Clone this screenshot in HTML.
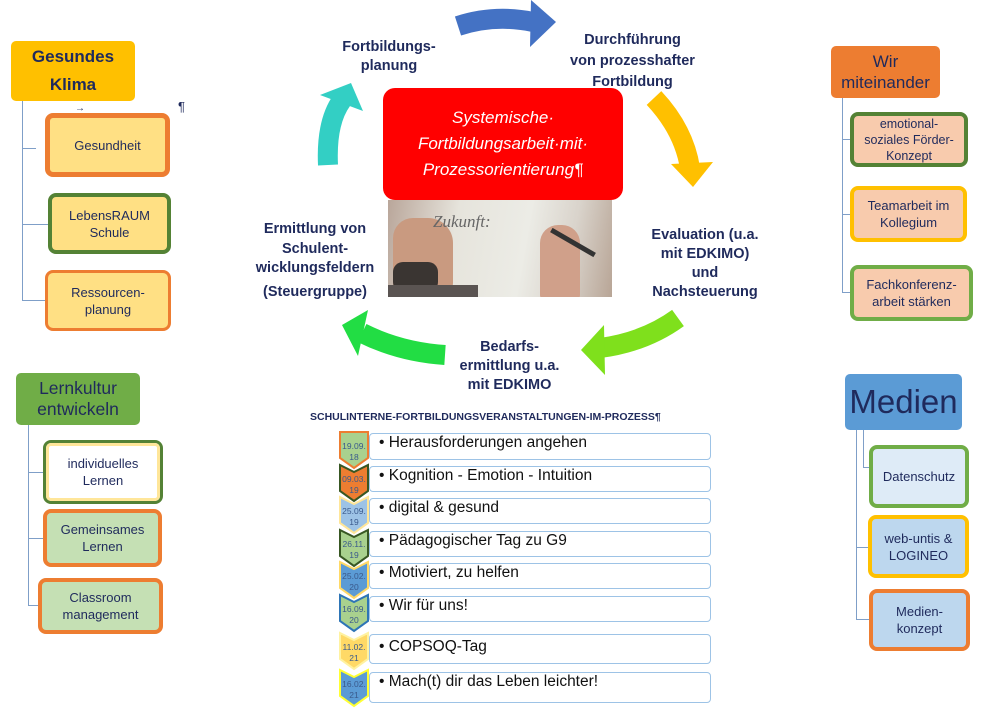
<!DOCTYPE html>
<html><head><meta charset="utf-8"><style>
body{margin:0;width:983px;height:710px;background:#fff;position:relative;overflow:hidden;font-family:"Liberation Sans",sans-serif;color:#1F2A5C}
.a{position:absolute;box-sizing:border-box;display:flex;align-items:center;justify-content:center;text-align:center}
.h{border-radius:5px}
.c{border-radius:8px;font-size:13px;line-height:17px;border-width:4px;border-style:solid}
.l{position:absolute;background:#7F9FC8}
.t{position:absolute;font-weight:bold;font-size:14.5px;line-height:19px;text-align:center;color:#1F2A5C}
.r{position:absolute;left:369px;width:342px;border:1.5px solid #9DC3E6;border-radius:4px;box-sizing:border-box;font-size:15.5px;padding-left:9px;color:#111;background:#fff}
</style></head><body>
<div class="a h" style="left:11px;top:41px;width:124px;height:60px;background:#FFC000;font-weight:bold;font-size:17px;line-height:28px">Gesundes<br>Klima</div>
<div class="l" style="left:22px;top:101px;width:1px;height:200px"></div>
<div class="l" style="left:22px;top:148px;width:14px;height:1px"></div>
<div class="l" style="left:22px;top:224px;width:26px;height:1px"></div>
<div class="l" style="left:22px;top:300px;width:24px;height:1px"></div>
<div class="a c" style="left:45px;top:113px;width:125px;height:64px;background:#FFE084;border-color:#ED7D31;border-width:5px">Gesundheit</div>
<div class="a c" style="left:48px;top:193px;width:123px;height:61px;background:#FFE084;border-color:#548235">LebensRAUM<br>Schule</div>
<div class="a c" style="left:45px;top:270px;width:126px;height:61px;background:#FFE084;border-color:#ED7D31;border-width:3px">Ressourcen-<br>planung</div>
<div style="position:absolute;left:178px;top:99px;font-size:13px">¶</div>
<div style="position:absolute;left:75px;top:103px;font-size:10px">→</div>
<div class="a h" style="left:831px;top:46px;width:109px;height:52px;background:#ED7D31;font-size:17px;line-height:21px">Wir<br>miteinander</div>
<div class="l" style="left:842px;top:98px;width:1px;height:195px"></div>
<div class="l" style="left:842px;top:139px;width:10px;height:1px"></div>
<div class="l" style="left:842px;top:214px;width:10px;height:1px"></div>
<div class="l" style="left:842px;top:292px;width:10px;height:1px"></div>
<div class="a c" style="left:850px;top:112px;width:118px;height:55px;background:#F8CBAD;border-color:#548235;font-size:12.5px;line-height:16px">emotional-<br>soziales Förder-<br>Konzept</div>
<div class="a c" style="left:850px;top:186px;width:117px;height:56px;background:#F8CBAD;border-color:#FFC000">Teamarbeit im<br>Kollegium</div>
<div class="a c" style="left:850px;top:265px;width:123px;height:56px;background:#F8CBAD;border-color:#70AD47">Fachkonferenz-<br>arbeit stärken</div>
<div class="a h" style="left:16px;top:373px;width:124px;height:52px;background:#70AD47;font-size:17.5px;line-height:21px">Lernkultur<br>entwickeln</div>
<div class="l" style="left:28px;top:425px;width:1px;height:181px"></div>
<div class="l" style="left:28px;top:472px;width:20px;height:1px"></div>
<div class="l" style="left:28px;top:538px;width:18px;height:1px"></div>
<div class="l" style="left:28px;top:605px;width:12px;height:1px"></div>
<div class="a c" style="left:43px;top:440px;width:120px;height:64px;background:#fff;border-color:#548235;border-width:3px"><div class="a" style="position:static;width:100%;height:100%;border:3px solid #FFE699;border-radius:5px">individuelles<br>Lernen</div></div>
<div class="a c" style="left:43px;top:509px;width:119px;height:58px;background:#C5E0B4;border-color:#ED7D31">Gemeinsames<br>Lernen</div>
<div class="a c" style="left:38px;top:578px;width:125px;height:56px;background:#C5E0B4;border-color:#ED7D31">Classroom<br>management</div>
<div class="a h" style="left:845px;top:374px;width:117px;height:56px;background:#5B9BD5;font-size:33px">Medien</div>
<div class="l" style="left:856px;top:430px;width:1px;height:190px"></div>
<div class="l" style="left:863px;top:430px;width:1px;height:38px"></div>
<div class="l" style="left:863px;top:467px;width:8px;height:1px"></div>
<div class="l" style="left:856px;top:547px;width:14px;height:1px"></div>
<div class="l" style="left:856px;top:619px;width:14px;height:1px"></div>
<div class="a c" style="left:869px;top:445px;width:100px;height:63px;background:#DEEBF7;border-color:#70AD47">Datenschutz</div>
<div class="a c" style="left:868px;top:515px;width:101px;height:63px;background:#BDD7EE;border-color:#FFC000">web-untis &amp;<br>LOGINEO</div>
<div class="a c" style="left:869px;top:589px;width:101px;height:62px;background:#BDD7EE;border-color:#ED7D31">Medien-<br>konzept</div>
<svg style="position:absolute;left:0;top:0" width="983" height="710" fill="none">
<path d="M458 26 Q495 14 533 22" stroke="#4472C4" stroke-width="20"/>
<polygon points="531,0 556,22 530,47" fill="#4472C4"/>
<path d="M654 98 Q684 130 690 168" stroke="#FFC000" stroke-width="20"/>
<polygon points="671,164 713,162 693,187" fill="#FFC000"/>
<path d="M678 318 Q645 342 600 348" stroke="#7FE01C" stroke-width="20"/>
<polygon points="604,325 605,375 581,350" fill="#7FE01C"/>
<path d="M445 355 Q400 352 362 333" stroke="#22DD44" stroke-width="20"/>
<polygon points="368,310 358,356 342,325" fill="#22DD44"/>
<path d="M328 165 Q326 122 342 100" stroke="#33CFC4" stroke-width="20"/>
<polygon points="320,95 363,111 351,83" fill="#33CFC4"/>
</svg>
<div style="position:absolute;left:388px;top:200px;width:224px;height:97px;background:linear-gradient(100deg,#b9a69a 0%,#e6e4dc 30%,#ececE6 60%,#d9d3cb 80%,#b8a596 100%);overflow:hidden">
<div style="position:absolute;left:5px;top:18px;width:60px;height:75px;background:#c99a80;border-radius:20px 25px 10px 10px"></div>
<div style="position:absolute;left:5px;top:62px;width:45px;height:30px;background:#3a3532;border-radius:10px"></div>
<div style="position:absolute;left:0;top:85px;width:90px;height:15px;background:#5a5452"></div>
<div style="position:absolute;left:152px;top:25px;width:40px;height:75px;background:#d0a08a;border-radius:18px 18px 5px 5px"></div>
<div style="position:absolute;left:160px;top:40px;width:50px;height:5px;background:#333;transform:rotate(30deg)"></div>
<div style="position:absolute;left:45px;top:12px;font-family:'Liberation Serif',serif;font-style:italic;font-size:17px;color:#666">Zukunft:</div>
</div>
<div class="a" style="left:383px;top:88px;width:240px;height:112px;background:#FF0000;border-radius:12px;color:#fff;font-style:italic;font-size:17px;line-height:26px">Systemische·<br>Fortbildungsarbeit·mit·<br>Prozessorientierung¶</div>
<div class="t" style="left:330px;top:38px;width:118px">Fortbildungs-<br>planung</div>
<div class="t" style="left:555px;top:30px;width:155px;line-height:21px">Durchführung<br>von prozesshafter<br>Fortbildung</div>
<div class="t" style="left:640px;top:226px;width:130px">Evaluation (u.a.<br>mit EDKIMO)<br>und<br>Nachsteuerung</div>
<div class="t" style="left:447px;top:338px;width:125px">Bedarfs-<br>ermittlung u.a.<br>mit EDKIMO</div>
<div class="t" style="left:250px;top:220px;width:130px;line-height:19.5px">Ermittlung von<br>Schulent-<br>wicklungsfeldern<br><span style="line-height:27px">(Steuergruppe)</span></div>
<div style="position:absolute;left:310px;top:411px;font-size:10.5px;font-weight:bold;color:#1F2A5C">SCHULINTERNE-FORTBILDUNGSVERANSTALTUNGEN-IM-PROZESS¶</div>
<div class="r" style="top:433px;height:27px">• Herausforderungen angehen</div>
<div class="r" style="top:466px;height:26px">• Kognition - Emotion - Intuition</div>
<div class="r" style="top:498px;height:26px">• digital &amp; gesund</div>
<div class="r" style="top:531px;height:26px">• Pädagogischer Tag zu G9</div>
<div class="r" style="top:563px;height:26px">• Motiviert, zu helfen</div>
<div class="r" style="top:596px;height:26px">• Wir für uns!</div>
<div class="r" style="top:634px;height:30px;padding-top:3px">• COPSOQ-Tag</div>
<div class="r" style="top:672px;height:31px">• Mach(t) dir das Leben leichter!</div>
<svg style="position:absolute;left:338px;top:430px" width="34" height="280" font-family="Liberation Sans" font-size="8.5" text-anchor="middle">
<g stroke-width="2">
<polygon points="2,2 30,2 30,28 16,38 2,28" fill="#A9D18E" stroke="#ED7D31"/>
<polygon points="2,2 16,9 30,2 30,28 16,38 2,28" transform="translate(0,33)" fill="#ED7D31" stroke="#385723"/>
<polygon points="2,2 16,9 30,2 30,28 16,38 2,28" transform="translate(0,65)" fill="#9DC3E6" stroke="#FFE699"/>
<polygon points="2,2 16,9 30,2 30,28 16,38 2,28" transform="translate(0,98)" fill="#A9D18E" stroke="#385723"/>
<polygon points="2,2 16,9 30,2 30,28 16,38 2,28" transform="translate(0,130)" fill="#5B9BD5" stroke="#FFD966"/>
<polygon points="2,2 16,9 30,2 30,28 16,38 2,28" transform="translate(0,163)" fill="#A9D18E" stroke="#2E75B6"/>
<polygon points="2,2 16,9 30,2 30,28 16,38 2,28" transform="translate(0,201)" fill="#FFD966" stroke="#FFF2A0"/>
<polygon points="2,2 16,9 30,2 30,28 16,38 2,28" transform="translate(0,238)" fill="#5B9BD5" stroke="#FFFF33"/>
</g>
<g fill="#3A5A8C">
<text x="16" y="19">19.09.</text><text x="16" y="30">18</text>
<text x="16" y="52">09.03.</text><text x="16" y="63">19</text>
<text x="16" y="84">25.09.</text><text x="16" y="95">19</text>
<text x="16" y="117">26.11.</text><text x="16" y="128">19</text>
<text x="16" y="149">25.02.</text><text x="16" y="160">20</text>
<text x="16" y="182">16.09.</text><text x="16" y="193">20</text>
<text x="16" y="220">11.02.</text><text x="16" y="231">21</text>
<text x="16" y="257">16.02.</text><text x="16" y="268">21</text>
</g>
</svg>
</body></html>
